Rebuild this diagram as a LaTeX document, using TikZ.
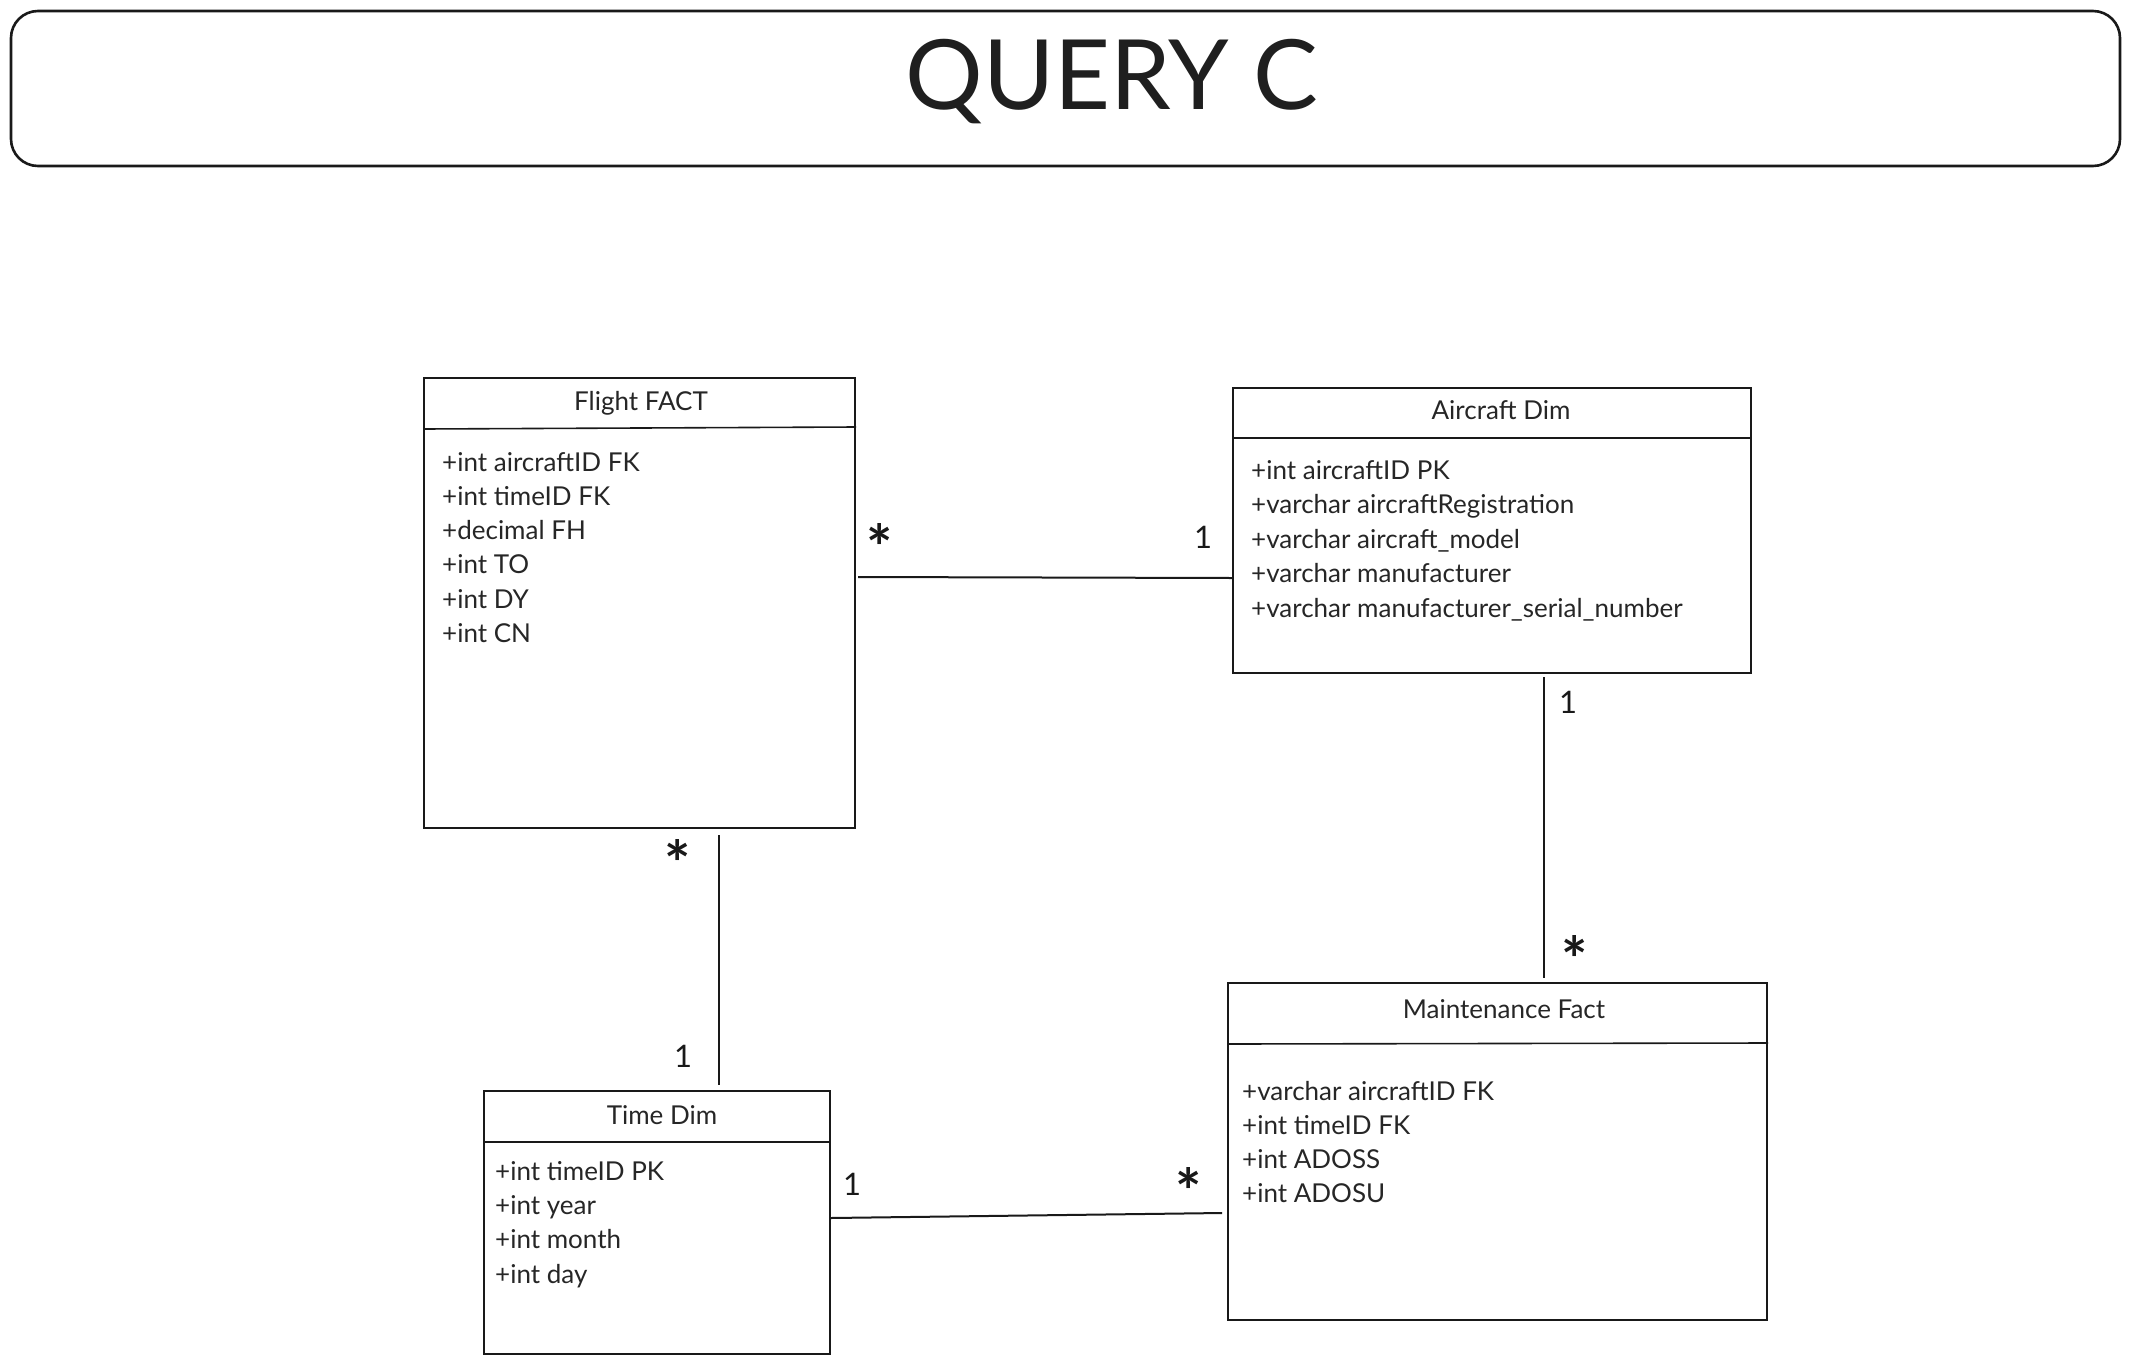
\documentclass[tikz,border=0pt]{standalone}
\usepackage{fontspec}
\setmainfont{Lato}
\begin{document}
\begin{tikzpicture}[x=1pt,y=-1pt,
  box/.style={draw=black!90, line width=2pt, inner sep=0pt, anchor=north west},
  hdr/.style={draw=black!90, line width=1.6pt},
  conn/.style={draw=black!90, line width=2pt},
  ttl/.style={inner sep=0pt, anchor=base, font=\fontsize{26}{30}\selectfont, text=black!85},
  attr/.style={inner sep=0pt, anchor=base west, font=\fontsize{26}{30}\selectfont, text=black!85},
  one/.style={inner sep=0pt, anchor=base, font=\fontsize{31}{34}\selectfont, text=black!90},
  many/.style={inner sep=0pt, anchor=center, font=\fontsize{62}{62}\bfseries\selectfont, text=black!90}]
\useasboundingbox (0,0) rectangle (2129,1363);
% title
\draw[line width=2.6pt, rounded corners=27pt, draw=black!90] (11,11) rectangle (2120,166);
\node[inner sep=0pt, anchor=base, font=\fontsize{97}{110}\selectfont, text=black!88] (title) at (1112,109) {QUERY C};
% boxes
\node[box, minimum width=431pt, minimum height=450pt] (ff) at (423,377) {};
\node[box, minimum width=518pt, minimum height=285pt] (ad) at (1232,387) {};
\node[box, minimum width=346pt, minimum height=263pt] (td) at (483,1090) {};
\node[box, minimum width=539pt, minimum height=337pt] (mf) at (1227,982) {};
% header lines
\draw[hdr] ([yshift=-52pt]ff.north west) -- ([yshift=-50pt]ff.north east);
\draw[hdr] ([yshift=-51pt]ad.north west) -- ([yshift=-51pt]ad.north east);
\draw[hdr] ([yshift=-52pt]td.north west) -- ([yshift=-52pt]td.north east);
\draw[hdr] ([yshift=-62pt]mf.north west) -- ([yshift=-61pt]mf.north east);
% titles
\node[ttl] (fft) at (641,410) {Flight FACT};
\node[ttl] (adt) at (1501,419) {Aircraft Dim};
\node[ttl] (tdt) at (662,1124) {Time Dim};
\node[ttl] (mft) at (1504,1018) {Maintenance Fact};
% attributes
\foreach \t [count=\i from 0] in {+int aircraftID FK,+int timeID FK,+decimal FH,+int TO,+int DY,+int CN}
  \node[attr] (ffa\i) at (442,471+34.3*\i) {\t};
\foreach \t [count=\i from 0] in {+int aircraftID PK,+varchar aircraftRegistration,+varchar aircraft\_model,+varchar manufacturer,+varchar manufacturer\_serial\_number}
  \node[attr] (ada\i) at (1251,479+34.5*\i) {\t};
\foreach \t [count=\i from 0] in {+int timeID PK,+int year,+int month,+int day}
  \node[attr] (tda\i) at (495,1180+34.4*\i) {\t};
\foreach \t [count=\i from 0] in {+varchar aircraftID FK,+int timeID FK,+int ADOSS,+int ADOSU}
  \node[attr] (mfa\i) at (1242,1100+34*\i) {\t};
% connectors
\draw[conn] ([xshift=2pt,yshift=-200pt]ff.north east) -- ([yshift=-191pt]ad.north west);
\draw[conn] ([xshift=312pt,yshift=-3pt]ad.south west) -- ([xshift=317pt,yshift=4pt]mf.north west);
\draw[conn] ([xshift=296pt,yshift=-6pt]ff.south west) -- ([xshift=236pt,yshift=5pt]td.north west);
\draw[conn] ([yshift=-128pt]td.north east) -- ([xshift=-5pt,yshift=-231pt]mf.north west);
% multiplicities
\node[many] (m1) at (880,547) {*};
\node[one]  (o1) at (1203,548) {1};
\node[one]  (o2) at (1568,713) {1};
\node[many] (m2) at (1575,959) {*};
\node[many] (m3) at (678,863) {*};
\node[one]  (o3) at (683,1067) {1};
\node[one]  (o4) at (852,1195) {1};
\node[many] (m4) at (1189,1191) {*};
\end{tikzpicture}
\end{document}
